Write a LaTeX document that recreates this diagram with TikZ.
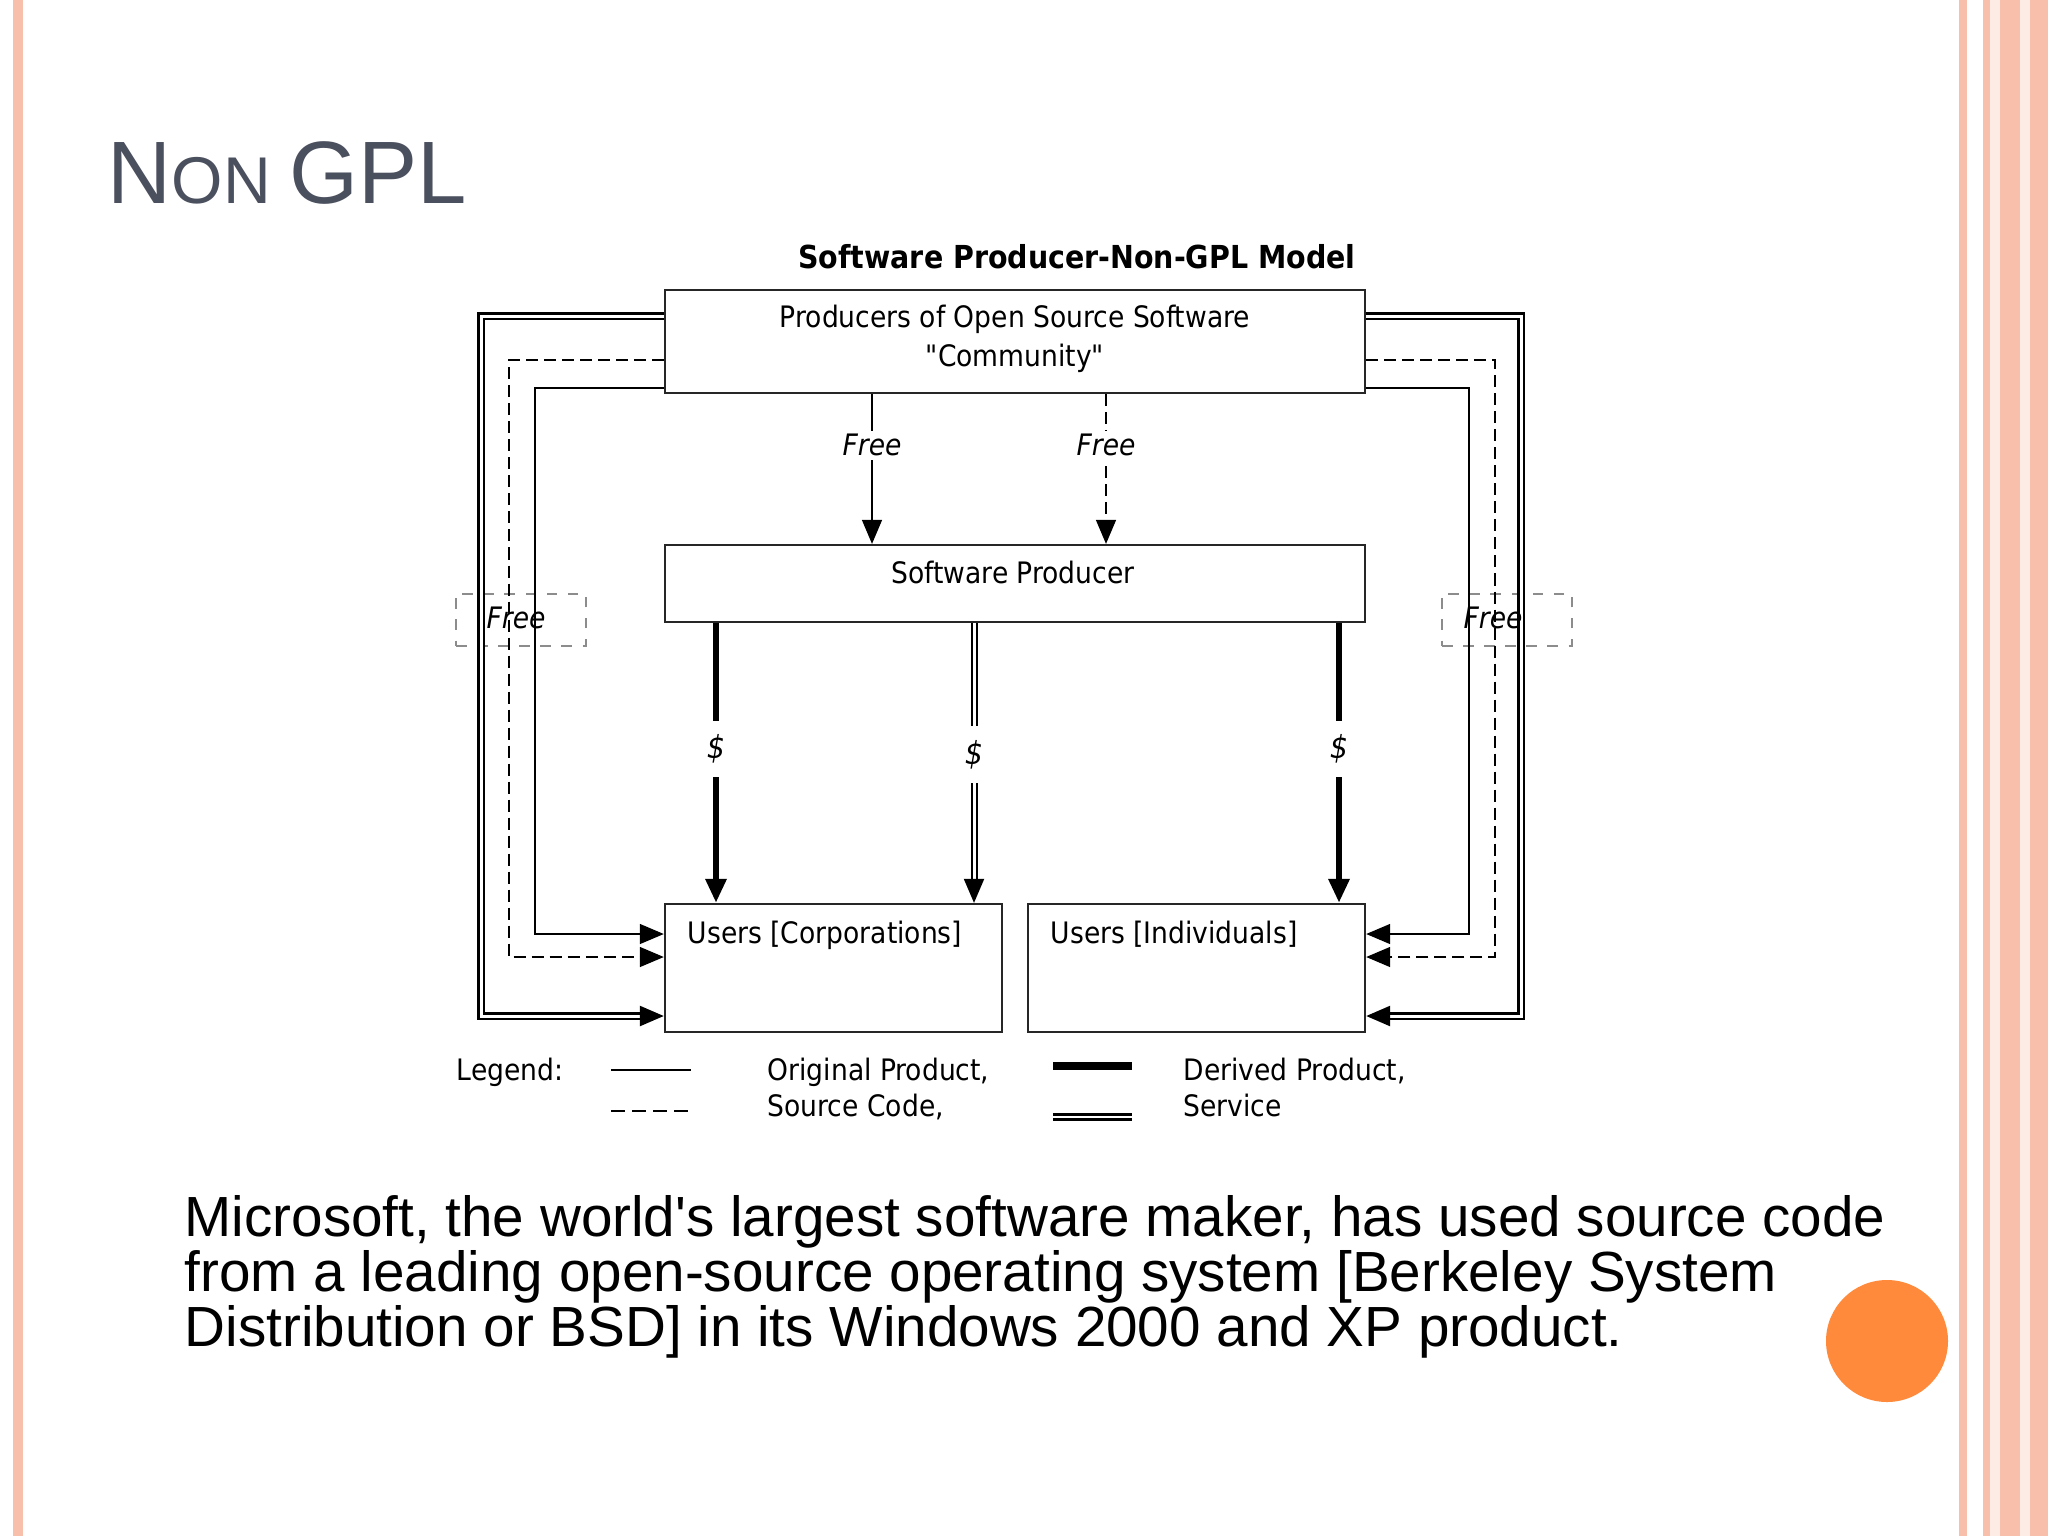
\documentclass[tikz,border=0pt]{standalone}
\usepackage{fontspec}
\setmainfont{Liberation Sans}
\newfontfamily\dg{DejaVu Sans Condensed}
\usetikzlibrary{arrows.meta}
\definecolor{salmon}{HTML}{F8BFAA}
\definecolor{titlec}{HTML}{4B505E}
\definecolor{orng}{HTML}{FF8A3B}
\tikzset{
  box/.style={draw=black!85,line width=0.022cm,fill=white,inner sep=0pt},
  txt/.style={font=\dg\fontsize{8.4}{9}\selectfont,inner sep=0pt},
  free/.style={font=\dg\itshape\fontsize{8.4}{9}\selectfont,inner sep=1pt,fill=white},
  thin/.style={line width=0.014cm},
  dsh/.style={line width=0.014cm,dash pattern=on 0.12cm off 0.06cm},
  thk/.style={line width=0.06cm},
  dbl/.style={double,line width=0.025cm,double distance=0.03cm},
  tip/.style={-{Triangle[length=0.24cm,width=0.2cm]}},
}
\begin{document}
\begin{tikzpicture}[x=0.01cm,y=-0.01cm]
\useasboundingbox (0,0) rectangle (2048,1536);
\fill[white] (0,0) rectangle (2048,1536);
% side decorations
\fill[salmon] (13,0) rectangle (23,1536);
\fill[salmon] (1959,0) rectangle (1967,1536);
\fill[salmon] (1983,0) rectangle (2048,1536);
\fill[white!70!salmon] (1990,0) rectangle (2000,1536);
\fill[white!70!salmon] (2020,0) rectangle (2030,1536);
% title
\node[anchor=base west,inner sep=0pt,text=titlec] (ttl) at (107,203)
  {\fontsize{25.2}{30}\selectfont N\fontsize{18.8}{24}\selectfont ON \fontsize{25.2}{30}\selectfont GPL};
\node[anchor=base,inner sep=0pt,font=\dg\bfseries\fontsize{9}{10}\selectfont] (dt) at (1077,268) {Software Producer-Non-GPL Model};
% coordinates
\coordinate (lA) at (481,316); \coordinate (lB) at (481,1016);
\coordinate (lC) at (509,360); \coordinate (lD) at (509,957);
\coordinate (lE) at (535,388); \coordinate (lF) at (535,934);
\coordinate (rA) at (1521,316); \coordinate (rB) at (1521,1016);
\coordinate (rC) at (1495,360); \coordinate (rD) at (1495,957);
\coordinate (rE) at (1469,388); \coordinate (rF) at (1469,934);
\coordinate (f1) at (872,0); \coordinate (f2) at (1106,0);
\coordinate (d1) at (716,0); \coordinate (d2) at (974,0); \coordinate (d3) at (1339,0);
% free boxes
\node[draw=black!45,dashed,line width=0.012cm,minimum width=1.30cm,minimum height=0.52cm,inner sep=0pt] (fl) at (521,620) {};
\node[draw=black!45,dashed,line width=0.012cm,minimum width=1.30cm,minimum height=0.52cm,inner sep=0pt] (fr) at (1507,620) {};
% boxes
\node[box,minimum width=7.00cm,minimum height=1.03cm] (top) at (1015,341.5) {};
\node[box,minimum width=7.00cm,minimum height=0.77cm] (sp) at (1015,583.5) {};
\node[box,minimum width=3.37cm,minimum height=1.28cm] (uc) at (833.5,968) {};
\node[box,minimum width=3.37cm,minimum height=1.28cm] (ui) at (1196.5,968) {};
\node[txt,anchor=base] (t1) at (1015,327) {Producers of Open Source Software};
\node[txt,anchor=base] (t2) at (1015,366) {"Community"};
\node[txt,anchor=base] (t3) at (1013,583) {Software Producer};
\node[txt,anchor=base west] (t4) at (687,943) {Users [Corporations]};
\node[txt,anchor=base west] (t5) at (1050,943) {Users [Individuals]};
% left loops
\draw[dbl,tip] (top.west|-lA) -- (lA) -- (lB) -- (uc.west|-lB);
\draw[dsh,tip] (top.west|-lC) -- (lC) -- (lD) -- (uc.west|-lD);
\draw[thin,tip] (top.west|-lE) -- (lE) -- (lF) -- (uc.west|-lF);
% right loops
\draw[dbl,tip] (top.east|-rA) -- (rA) -- (rB) -- (ui.east|-rB);
\draw[dsh,tip] (top.east|-rC) -- (rC) -- (rD) -- (ui.east|-rD);
\draw[thin,tip] (top.east|-rE) -- (rE) -- (rF) -- (ui.east|-rF);
\node[font=\dg\itshape\fontsize{8.4}{9}\selectfont,inner sep=0pt,anchor=base] (fl1) at (516,628) {Free};
\node[font=\dg\itshape\fontsize{8.4}{9}\selectfont,inner sep=0pt,anchor=base] (fr1) at (1493,628) {Free};
% free arrows
\draw[thin,tip] (top.south-|f1) -- node[free,pos=0.34]{Free} (sp.north-|f1);
\draw[dsh,tip] (top.south-|f2) -- node[free,pos=0.34]{Free} (sp.north-|f2);
% $ arrows
\draw[thk,tip] (sp.south-|d1) -- node[free,font=\dg\itshape\fontsize{9}{9}\selectfont,inner sep=4pt,pos=0.45]{\$} (uc.north-|d1);
\draw[double,line width=0.02cm,double distance=0.03cm,tip] (sp.south-|d2) -- node[free,font=\dg\itshape\fontsize{9}{9}\selectfont,inner sep=4pt,pos=0.47]{\$} (uc.north-|d2);
\draw[thk,tip] (sp.south-|d3) -- node[free,font=\dg\itshape\fontsize{9}{9}\selectfont,inner sep=4pt,pos=0.45]{\$} (ui.north-|d3);
% legend
\node[txt,anchor=base west] (lg) at (456,1080) {Legend:};
\coordinate (g1) at (611,1070); \coordinate (g2) at (691,1070);
\coordinate (g3) at (611,1111); \coordinate (g4) at (691,1111);
\coordinate (g5) at (1053,1066); \coordinate (g6) at (1132,1066);
\coordinate (g7) at (1053,1117); \coordinate (g8) at (1132,1117);
\draw[thin] (g1) -- (g2);
\draw[thin,dash pattern=on 0.14cm off 0.07cm] (g3) -- (g4);
\draw[line width=0.08cm] (g5) -- (g6);
\draw[double,line width=0.03cm,double distance=0.02cm] (g7) -- (g8);
\node[txt,anchor=base west] (lo1) at (767,1080) {Original Product,};
\node[txt,anchor=base west] (lo2) at (767,1116) {Source Code,};
\node[txt,anchor=base west] (ld1) at (1183,1080) {Derived Product,};
\node[txt,anchor=base west] (ld2) at (1183,1116) {Service};
% paragraph
\node[anchor=base west,inner sep=0pt,font=\fontsize{16.1}{16}\selectfont] (p1) at (184,1236) {Microsoft, the world\textquotesingle s largest software maker, has used source code};
\node[anchor=base west,inner sep=0pt,font=\fontsize{16.1}{16}\selectfont] (p2) at (184,1291) {from a leading open-source operating system [Berkeley System};
\node[anchor=base west,inner sep=0pt,font=\fontsize{16.1}{16}\selectfont] (p3) at (184,1346) {Distribution or BSD] in its Windows 2000 and XP product.};
\fill[orng] (1887,1341) circle (61);
\end{tikzpicture}
\end{document}
